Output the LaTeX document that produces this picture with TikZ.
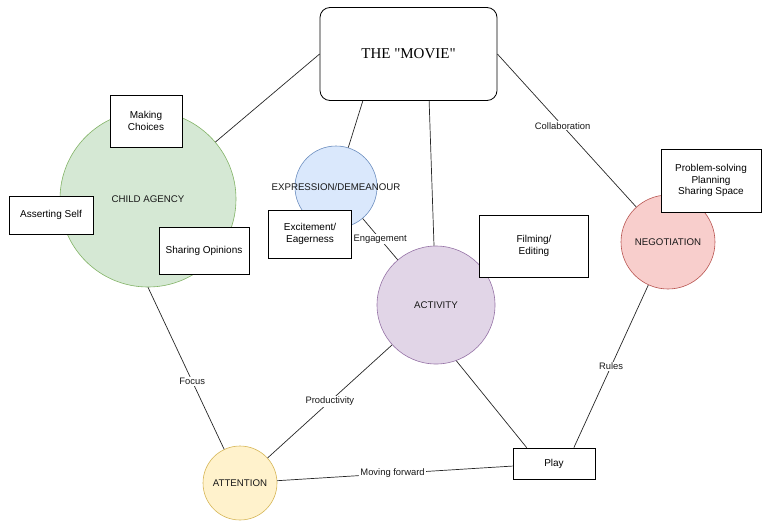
\documentclass[tikz,border=0pt]{standalone}
\usepackage{fontspec}
\setmainfont{Liberation Sans}
\newfontfamily\moviefont{Liberation Serif}
\usetikzlibrary{positioning,calc}

\begin{document}
\begin{tikzpicture}[x=1pt, y=-1pt,
        topic/.style={circle, draw, line width=0.6pt, inner sep=0pt, text=black!90, font=\fontsize{9.7}{11}\selectfont},
        note/.style={draw, line width=0.8pt, fill=white, align=center, inner sep=2pt, font=\fontsize{10}{12}\selectfont},
        link/.style={line width=0.7pt, black!85},
        lbl/.style={fill=white, inner sep=1pt, text=black!90, font=\fontsize{9.4}{10}\selectfont}]
        % draw.io colours
        \definecolor{agencyfill}{HTML}{D5E8D4}\definecolor{agencyline}{HTML}{82B366}
        \definecolor{exprfill}{HTML}{DAE8FC}\definecolor{exprline}{HTML}{6C8EBF}
        \definecolor{actfill}{HTML}{E1D5E7}\definecolor{actline}{HTML}{9673A6}
        \definecolor{negofill}{HTML}{F8CECC}\definecolor{negoline}{HTML}{B85450}
        \definecolor{attnfill}{HTML}{FFF2CC}\definecolor{attnline}{HTML}{D6B656}

        \useasboundingbox (0,0) rectangle (762,520);

        % The movie at the top
        \node[draw, line width=0.8pt, rounded corners=10pt, minimum width=177pt, minimum height=93pt, font=\moviefont\fontsize{15}{18}\selectfont] (movie) at (408.5,54) {THE "MOVIE"};

        % Circles
        \node[topic, fill=agencyfill, draw=agencyline, minimum size=176pt] (agency) at (148,199) {CHILD AGENCY};
        \node[topic, fill=exprfill, draw=exprline, minimum size=82pt] (expr) at (336,187) {};
        \node[text=black!90, font=\fontsize{9.7}{11}\selectfont] (exprtext) at (expr) {EXPRESSION/DEMEANOUR};
        \node[topic, fill=actfill, draw=actline, minimum size=118pt] (activity) at (436,305) {ACTIVITY};
        \node[topic, fill=negofill, draw=negoline, minimum size=94pt] (nego) at (668,242) {NEGOTIATION};
        \node[topic, fill=attnfill, draw=attnline, minimum size=74pt] (attention) at (240,483) {ATTENTION};

        % Boxes
        \node[note, minimum width=72pt, minimum height=52pt] (choices) at (146,121) {Making\\Choices};
        \node[note, minimum width=84pt, minimum height=38pt] (assert) at (51,215) {Asserting Self};
        \node[note, minimum width=90pt, minimum height=47pt] (opinions) at (204,251) {Sharing Opinions};
        \node[note, minimum width=83pt, minimum height=48pt] (excite) at (310,234) {Excitement/\\Eagerness};
        \node[note, minimum width=109pt, minimum height=62pt] (filming) at (534,246) {Filming/\\Editing};
        \node[note, minimum width=100pt, minimum height=63pt, font=\fontsize{10}{11.5}\selectfont] (problem) at (711,180.5) {Problem-solving\\Planning\\Sharing Space};
        \node[note, minimum width=82pt, minimum height=31pt] (play) at (554,463.5) {Play};

        % Attachment points
        \coordinate (movieexpr) at ($(movie.south west)!0.243!(movie.south east)$);
        \coordinate (movieact) at ($(movie.south west)!0.616!(movie.south east)$);
        \coordinate (playleft) at ($(play.north west)!0.17!(play.north east)$);
        \coordinate (playright) at ($(play.north west)!0.74!(play.north east)$);

        % Connecting lines
        \draw[link] (movie.west) -- (agency);
        \draw[link] (movieexpr) -- (expr);
        \draw[link] (movieact) -- (activity);
        \draw[link] (movie.east) -- (nego) node[lbl, pos=0.47] {Collaboration};
        \draw[link] (expr) -- (activity) node[lbl, midway] {Engagement};
        \draw[link] (agency.south) -- (attention) node[lbl, pos=0.58] {Focus};
        \draw[link] (activity) -- (attention) node[lbl, midway] {Productivity};
        \draw[link] (activity.-70) -- (playleft);
        \draw[link] (nego) -- (playright) node[lbl, midway] {Rules};
        \draw[link] (attention) -- (play) node[lbl, pos=0.49] {Moving forward};
    \end{tikzpicture}
\end{document}
